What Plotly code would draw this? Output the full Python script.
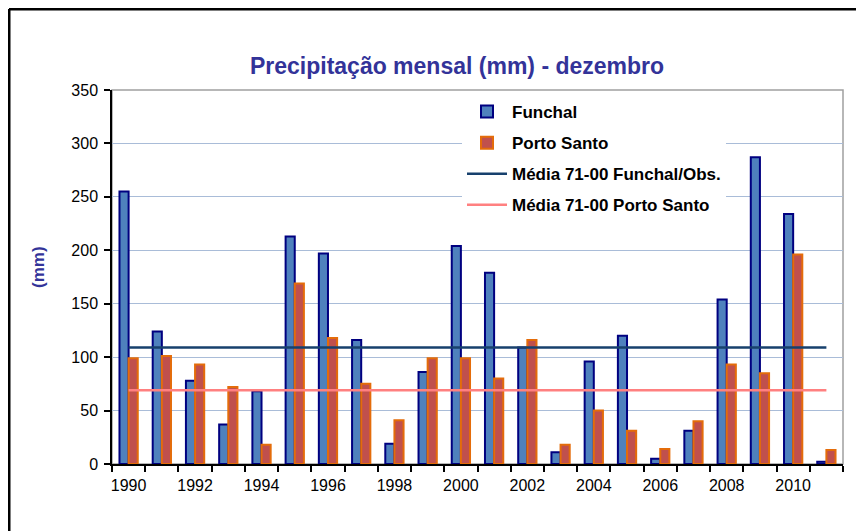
import plotly.graph_objects as go

years = list(range(1990, 2012))
funchal = [255, 124, 78, 37, 68, 213, 197, 116, 19, 86, 204, 179, 109, 11, 96, 120, 5, 31, 154, 287, 234, 2]
porto_santo = [99, 101, 93, 72, 18, 169, 118, 75, 41, 99, 99, 80, 116, 18, 50, 31, 14, 40, 93, 85, 196, 13]
media_funchal = 109
media_porto_santo = 69
year_ticks = list(range(1990, 2011, 2))
y_ticks = [0, 50, 100, 150, 200, 250, 300, 350]

FONT = "Liberation Sans, Arial, sans-serif"

# page body has an 8px margin: figure coords = screen coords - 8
OFF = 8
W, H = 864 - OFF, 531 - OFF
L, R, T, B = 112 - OFF, 843 - OFF, 90 - OFF, 464 - OFF
def px(x):
    return (x - OFF - L) / (R - L)
def py(y):
    return (B - (y - OFF)) / (B - T)

fig = go.Figure()
fig.add_trace(go.Bar(
    x=years, y=funchal, name="Funchal", legendgroup="a",
    marker=dict(color="#4F81BD", line=dict(color="#000080", width=2)),
))
fig.add_trace(go.Bar(
    x=years, y=porto_santo, name="Porto Santo", legendgroup="b",
    marker=dict(color="#C0504D", line=dict(color="#E46C0A", width=2)),
))
fig.add_trace(go.Scatter(
    x=years, y=[media_funchal] * len(years), mode="lines",
    name="Média 71-00 Funchal/Obs.", legendgroup="c",
    line=dict(color="#17406D", width=2.5),
))
fig.add_trace(go.Scatter(
    x=years, y=[media_porto_santo] * len(years), mode="lines",
    name="Média 71-00 Porto Santo", legendgroup="d",
    line=dict(color="#FF8080", width=2.5),
))

shapes = [
    dict(type="rect", xref="paper", yref="paper", x0=0, x1=1, y0=0, y1=1,
         line=dict(color="#A0A0A0", width=1.5), layer="below"),
    dict(type="line", xref="paper", yref="paper", x0=px(9), x1=px(9), y0=py(9), y1=py(560),
         line=dict(color="black", width=3)),
    dict(type="line", xref="paper", yref="paper", x0=px(9), x1=px(900), y0=py(9), y1=py(9),
         line=dict(color="black", width=3)),
]

fig.update_layout(
    width=W, height=H,
    margin=dict(l=L, r=W - R, t=T, b=H - B, pad=0),
    paper_bgcolor="white", plot_bgcolor="white",
    barmode="group", bargap=0.45, bargroupgap=0,
    font=dict(family=FONT, size=16, color="black"),
    title=dict(text="<b>Precipitação mensal (mm) - dezembro</b>",
               x=(457 - OFF) / W, y=1 - (66 - OFF) / H, xref="container", yref="container",
               xanchor="center", yanchor="middle",
               font=dict(family=FONT, size=23, color="#333399")),
    xaxis=dict(range=[1989.5, 2011.5], tickmode="array", tickvals=year_ticks,
               ticktext=[str(y) for y in year_ticks],
               ticks="outside", ticklen=6, tickcolor="rgba(0,0,0,0)",
               showline=True, linecolor="black", linewidth=1.5, showgrid=False, zeroline=False,
               tickfont=dict(size=16, color="black"),
               minor=dict(tickmode="array", tickvals=[1989.5 + i for i in range(23)],
                          ticks="outside", ticklen=6, tickcolor="black", tickwidth=1.5, showgrid=False)),
    yaxis=dict(range=[0, 350], tickmode="array", tickvals=y_ticks,
               ticks="outside", ticklen=6, tickcolor="black", tickwidth=1.5,
               showline=True, linecolor="black", linewidth=1.5,
               showgrid=True, gridcolor="#A9BCD8", gridwidth=1.2, zeroline=False,
               tickfont=dict(size=16, color="black"), ticklabelstandoff=3),
    legend=dict(x=px(462), y=py(94), xanchor="left", yanchor="top",
                bgcolor="white", borderwidth=0, traceorder="grouped", tracegroupgap=6,
                itemwidth=40, font=dict(family=FONT, size=17, color="black", weight="bold")),
    shapes=shapes,
    annotations=[dict(text="<b>(mm)</b>", xref="paper", yref="paper", x=px(38), y=py(267),
                      xanchor="center", yanchor="middle", showarrow=False, textangle=-90,
                      font=dict(family=FONT, size=17, color="#333399"))],
)

fig.write_html("out.html")
